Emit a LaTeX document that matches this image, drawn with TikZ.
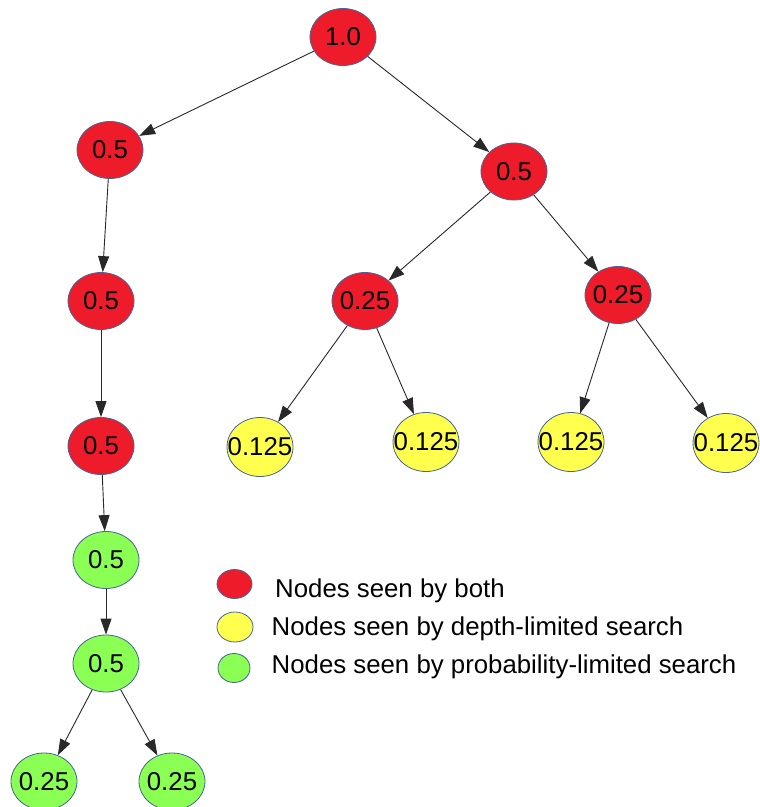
\documentclass[tikz,border=0pt]{standalone}
\usepackage{fontspec}
\setmainfont{Liberation Sans}
\usetikzlibrary{arrows.meta,shapes.geometric}
\definecolor{nred}{RGB}{238,28,42}
\definecolor{nyellow}{RGB}{255,255,77}
\definecolor{ngreen}{RGB}{138,255,84}
\definecolor{nborder}{RGB}{70,100,150}
\definecolor{edgec}{RGB}{40,40,40}
\tikzset{
  tnode/.style={ellipse, draw=nborder, line width=0.8pt, inner sep=0pt,
    minimum width=66pt, minimum height=57pt,
    font=\fontsize{25.8}{30}\selectfont},
  rednode/.style={tnode, fill=nred},
  yelnode/.style={tnode, fill=nyellow, minimum height=59pt},
  grnnode/.style={tnode, fill=ngreen},
  lgd/.style={ellipse, draw=nborder, line width=0.8pt, inner sep=0pt,
    minimum width=35pt, minimum height=29pt},
  lgdtext/.style={anchor=base west, inner sep=0pt, font=\fontsize{25.8}{30}\selectfont},
  edge/.style={draw=edgec, line width=0.9pt, -{Triangle[length=16pt,width=11pt]}}
}
\newcommand{\nt}[1]{\makebox[0pt]{#1}}
\begin{document}
\begin{tikzpicture}[x=1pt,y=-1pt]
\useasboundingbox (0,0) rectangle (760,807);
% tree nodes
\node[rednode] (root) at (343,37) {\nt{1.0}};
\node[rednode] (l1) at (110,150) {\nt{0.5}};
\node[rednode] (r1) at (514,171.5) {\nt{0.5}};
\node[rednode] (l2) at (101,301) {\nt{0.5}};
\node[rednode] (l3) at (101,446) {\nt{0.5}};
\node[rednode] (rl) at (365,301) {\nt{0.25}};
\node[rednode] (rr) at (618,295) {\nt{0.25}};
\node[yelnode] (y1) at (260,447) {\nt{0.125}};
\node[yelnode] (y2) at (426,442) {\nt{0.125}};
\node[yelnode] (y3) at (571,442) {\nt{0.125}};
\node[yelnode] (y4) at (726,443) {\nt{0.125}};
\node[grnnode] (g1) at (106,560) {\nt{0.5}};
\node[grnnode] (g2) at (106,663.5) {\nt{0.5}};
\node[grnnode] (g3) at (44,781.5) {\nt{0.25}};
\node[grnnode] (g4) at (172,781.5) {\nt{0.25}};
% edges
\draw[edge] (root) -- (l1);
\draw[edge] (root) -- (r1);
\draw[edge] (l1) -- (l2);
\draw[edge] (l2) -- (l3);
\draw[edge] (l3) -- (g1);
\draw[edge] (g1) -- (g2);
\draw[edge] (g2) -- (g3);
\draw[edge] (g2) -- (g4);
\draw[edge] (r1) -- (rl);
\draw[edge] (r1) -- (rr);
\draw[edge] (rl) -- (y1);
\draw[edge] (rl) -- (y2);
\draw[edge] (rr) -- (y3);
\draw[edge] (rr) -- (y4);
% legend
\node[lgd, fill=nred] (k1) at (234.5,584) {};
\node[lgd, fill=nyellow, minimum width=36pt, minimum height=30pt] (k2) at (235,627) {};
\node[lgd, fill=ngreen, minimum width=32pt] (k3) at (234,668) {};
\node[lgdtext] (t1) at (275,597) {Nodes seen by both};
\node[lgdtext] (t2) at (271.5,635) {Nodes seen by depth-limited search};
\node[lgdtext] (t3) at (271.5,673) {Nodes seen by probability-limited search};
\end{tikzpicture}
\end{document}
